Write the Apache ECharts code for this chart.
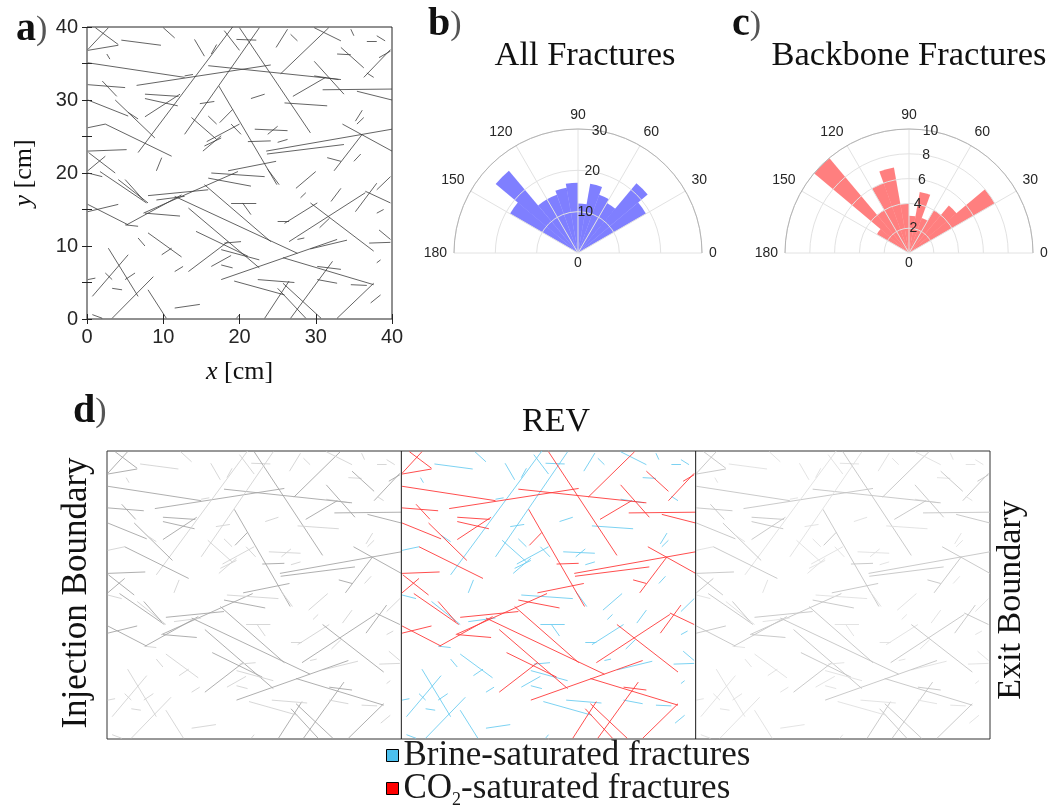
<!DOCTYPE html>
<html><head><meta charset="utf-8">
<script src="https://cdn.jsdelivr.net/npm/echarts@6/dist/echarts.min.js"></script>
<style>html,body{margin:0;padding:0;background:#fff}#c{width:1051px;height:809px}</style>
</head><body><div id="c"></div><script>
// Fracture segments in cm: [x1, y1, x2, y2, backbone(1) / dangling(0)]
const fractures = [
[0.1,36.9,2.8,39.9,1],[1.1,39.9,4.1,37.6,1],[0.1,36.8,4.1,37.5,1],[2.6,36.3,3.0,35.6,0],
[4.5,38.2,9.7,37.5,0],[10.0,39.9,11.5,38.5,0],[0.1,35.1,12.8,33.1,1],[0.1,32.1,5.0,31.7,1],
[2.0,32.6,3.9,30.5,1],[6.5,32.0,24.1,34.8,1],[7.6,30.8,12.0,30.5,1],[7.6,30.2,11.9,29.2,1],
[0.1,30.0,5.4,27.8,1],[14.1,38.3,15.4,36.0,0],[16.3,36.3,17.0,37.6,0],[18.0,39.5,20.0,36.8,0],
[19.6,38.3,22.2,38.2,0],[20.0,39.9,29.3,25.5,1],[24.8,37.2,26.3,39.7,0],[26.7,39.0,27.6,38.1,0],
[25.4,33.6,31.7,39.9,1],[29.8,39.9,33.3,38.1,0],[32.8,36.3,34.6,36.2,0],[33.3,37.2,36.3,34.4,1],
[34.6,39.7,35.0,38.8,0],[36.7,38.1,38.0,38.1,0],[38.0,38.8,39.1,38.1,0],[38.3,35.8,39.8,36.7,1],
[36.3,33.1,39.8,36.9,1],[36.7,33.7,37.6,33.1,0],[29.8,35.3,33.7,30.8,1],[29.8,33.3,33.0,32.8,0],
[27.0,30.5,31.3,33.1,1],[25.9,29.6,31.5,29.2,0],[30.9,31.4,40.0,31.5,1],[35.4,31.2,40.0,30.0,1],
[35.2,27.1,36.1,28.6,0],[35.4,26.7,36.3,27.6,0],[33.5,26.7,40.0,23.0,1],[23.5,23.0,40.0,26.0,1],
[23.6,22.6,33.7,23.9,1],[31.5,22.1,33.3,21.6,1],[32.4,20.3,36.1,25.3,1],[35.0,21.6,35.9,22.6,0],
[17.3,31.9,24.9,18.4,1],[15.9,34.7,33.3,32.8,1],[12.8,33.3,13.9,33.5,0],[14.8,29.5,16.7,29.8,0],
[21.5,30.2,23.3,30.8,0],[17.4,26.9,19.1,28.7,1],[15.9,27.8,17.0,26.7,0],[6.7,22.8,19.1,40.0,0],
[12.8,25.3,22.6,39.9,0],[13.7,27.6,17.0,24.6,0],[15.2,23.0,17.6,25.1,0],[15.4,23.7,17.6,24.8,0],
[15.7,24.3,20.0,26.7,0],[22.0,26.0,26.3,25.8,0],[23.7,25.3,25.0,26.4,0],[21.1,24.3,24.1,24.4,1],
[25.0,24.2,26.3,24.6,0],[18.9,26.7,20.2,25.3,0],[0.1,26.2,2.4,26.7,0],[0.1,23.0,5.2,23.2,1],
[0.2,22.8,3.7,20.0,1],[3.7,30.0,8.9,24.8,1],[7.6,27.7,12.2,30.8,1],[2.4,26.7,11.1,22.3,1],
[5.4,28.3,6.7,27.4,0],[0.1,20.3,2.4,22.3,1],[18.5,20.3,24.8,21.6,1],[9.1,20.3,9.8,22.1,0],
[1.7,20.2,7.8,15.9,1],[4.1,19.1,8.0,15.9,0],[0.1,15.7,5.4,12.9,1],[0.1,14.7,4.1,15.7,1],
[5.0,12.9,6.7,12.7,0],[5.2,12.9,12.4,17.0,1],[7.4,14.5,19.8,20.2,1],[7.6,14.5,12.2,14.1,1],
[8.0,16.9,15.9,17.7,1],[9.1,16.3,12.8,16.8,0],[11.5,16.8,27.6,9.0,1],[13.3,15.2,22.6,7.0,1],
[15.4,18.4,24.1,10.6,1],[15.9,19.3,21.5,18.2,1],[18.9,15.9,22.2,15.9,0],[20.4,15.9,21.5,14.3,0],
[25.0,13.4,26.5,13.4,0],[23.7,20.5,25.2,18.4,0],[27.4,17.9,30.0,20.2,0],[28.0,16.6,28.7,17.3,0],
[32.0,16.1,33.3,17.9,0],[25.9,13.1,30.2,15.9,0],[29.3,15.9,37.6,9.3,1],[26.5,10.6,36.5,17.3,1],
[27.6,10.9,28.5,11.1,0],[35.2,14.7,38.0,18.6,1],[36.5,17.5,39.8,15.9,1],[38.0,14.5,38.9,15.0,0],
[38.3,12.2,39.8,10.9,0],[37.0,10.4,39.8,10.5,0],[29.3,9.6,34.1,10.8,0],[14.3,12.0,21.1,8.6,1],
[17.6,9.5,22.6,8.1,0],[16.3,7.2,18.9,8.7,0],[17.6,7.4,19.1,7.0,0],[13.3,6.5,18.5,10.6,1],
[17.6,5.4,32.8,10.9,1],[25.7,8.4,37.6,4.7,1],[30.2,7.2,33.3,6.8,1],[26.7,0.1,32.2,7.9,1],
[25.7,4.9,30.7,0.1,1],[23.3,0.1,26.5,5.2,1],[25.0,4.2,28.7,0.1,1],[19.3,5.2,25.9,3.3,0],
[6.7,11.1,7.6,10.0,0],[8.0,11.8,12.4,8.5,0],[9.8,8.8,11.1,9.7,0],[2.8,9.7,6.7,3.1,0],
[0.7,3.1,5.4,8.8,0],[5.0,5.4,6.3,6.3,0],[3.3,4.2,4.6,4.0,0],[0.1,5.4,1.1,5.6,0],
[2.4,6.3,3.3,5.4,0],[3.3,0.1,8.7,5.8,0],[8.0,4.0,10.4,0.1,0],[11.5,1.5,14.8,2.0,0],
[11.5,6.5,12.6,7.2,0],[0.7,0.6,2.0,0.1,0],[34.6,4.7,36.7,4.6,0],[32.8,0.1,37.6,4.9,1],
[38.0,7.7,38.5,8.1,0],[0.1,20.0,2.0,19.5,0],[30.2,5.4,32.8,4.9,0],[5.0,19.1,7.4,16.3,1],
[37.2,2.2,38.5,3.3,0],[19.6,0.1,20.0,0.6,0],[38.0,17.7,39.8,19.5,0],
[16.3,20.0,23.3,19.5,0],[18.0,10.4,20.2,10.6,0],[22.4,5.4,27.2,5.0,0],[30.5,12.5,31.8,13.8,0]
];
// Rose histogram: 10-degree bins from 0 to 180
const roseBins = [0,10,20,30,40,50,60,70,80,90,100,110,120,130,140,150,160,170];
const allCounts = [0,0,0,19,22,14,15,17,12,17,16,15,15,26,19,0,0,0];
const backboneCounts = [0,0,0,8,5,4,3,5,3,4,7,6,4,10,3,0,0,0];
const tileOffsets = [0,40,80];
const tileEdges = [40,80];
const legendNames = ['Brine-saturated fractures','CO2-saturated fractures'];

const SERIF = '"Liberation Serif", "DejaVu Serif", serif';
const SANS = '"Liberation Sans", Arial, sans-serif';

function seg(f, dx){ return [[f[0]+dx, f[1]], [f[2]+dx, f[3]]]; }

const chart = echarts.init(document.getElementById('c'), null, {renderer:'canvas'});

const polars = [
  {center:[578,253], radius:124},{center:[578,253], radius:124},{center:[578,253], radius:124},
  {center:[909,253], radius:124},{center:[909,253], radius:124},{center:[909,253], radius:124}
];
function angleGrid(pi){
  return {polarIndex:pi, type:'value', min:0, max:180, interval:30, startAngle:0, endAngle:180, clockwise:false,
    axisLine:{show:true, lineStyle:{color:'#b4b4b4', width:1}}, axisTick:{show:false},
    axisLabel:{show:true, fontSize:14, color:'#262626', fontFamily:SANS, margin:7},
    splitLine:{show:true, lineStyle:{color:'#e2e2e2', width:1}}, z:5};
}
function angleBars(pi){
  return {polarIndex:pi, type:'category', data:roseBins.map(String), startAngle:0, endAngle:180, clockwise:false,
    boundaryGap:true, show:false, axisLine:{show:false}, axisLabel:{show:false}, axisTick:{show:false}, splitLine:{show:false}};
}
function angleLabels(pi){
  return {polarIndex:pi, type:'value', min:0, max:360, startAngle:80, show:false,
    axisLine:{show:false}, axisLabel:{show:false}, axisTick:{show:false}, splitLine:{show:false}};
}
function radiusGrid(pi,max,intv){
  return {polarIndex:pi, type:'value', min:0, max:max, interval:intv, axisLine:{show:false}, axisTick:{show:false},
    axisLabel:{show:false}, splitLine:{show:true, lineStyle:{color:'#e2e2e2', width:1}}, z:5};
}
function radiusHidden(pi,max){
  return {polarIndex:pi, type:'value', min:0, max:max, show:false, axisLine:{show:false}, axisTick:{show:false},
    axisLabel:{show:false}, splitLine:{show:false}};
}
function radiusLabels(pi,max,intv){
  return {polarIndex:pi, type:'value', min:0, max:max, interval:intv, axisLine:{show:false}, axisTick:{show:false},
    splitLine:{show:false},
    axisLabel:{show:true, margin:0, align:'center', verticalAlign:'middle', fontSize:14, color:'#262626', fontFamily:SANS,
      formatter:(v)=> v===0 ? '{z|0}' : String(v),
      rich:{z:{fontSize:14, color:'#262626', fontFamily:SANS, padding:[20,0,0,0]}}}, z:6};
}

const series = [];
// Panel a
series.push({type:'lines', coordinateSystem:'cartesian2d', xAxisIndex:0, yAxisIndex:0, silent:true,
  data: fractures.map(f=>({coords:seg(f,0)})), lineStyle:{color:'#3c3c3c', width:0.8, opacity:1}, z:2});
// Panel d - left tile (gray)
series.push({type:'lines', coordinateSystem:'cartesian2d', xAxisIndex:2, yAxisIndex:2, silent:true,
  data: fractures.map(f=>({coords:seg(f,tileOffsets[0]), lineStyle:{color: f[4]? '#a6a6a6':'#d2d2d2'}})),
  lineStyle:{width:0.9, opacity:1}, z:2});
// REV tile
series.push({name:legendNames[0], type:'lines', coordinateSystem:'cartesian2d', xAxisIndex:2, yAxisIndex:2, silent:true,
  data: fractures.filter(f=>!f[4]).map(f=>({coords:seg(f,tileOffsets[1])})),
  lineStyle:{color:'#6dcdf0', width:0.9, opacity:1}, itemStyle:{color:'#4cc0ee'}, z:2});
series.push({name:legendNames[1], type:'lines', coordinateSystem:'cartesian2d', xAxisIndex:2, yAxisIndex:2, silent:true,
  data: fractures.filter(f=>f[4]).map(f=>({coords:seg(f,tileOffsets[1])})),
  lineStyle:{color:'#ff3a3a', width:0.9, opacity:1}, itemStyle:{color:'#ff0000'}, z:3});
// Right tile
series.push({type:'lines', coordinateSystem:'cartesian2d', xAxisIndex:2, yAxisIndex:2, silent:true,
  data: fractures.map(f=>({coords:seg(f,tileOffsets[2]), lineStyle:{color: f[4]? '#c4c4c4':'#e0e0e0'}})),
  lineStyle:{width:0.9, opacity:1}, z:2});
// Tile edges
tileEdges.forEach(e=>{
  series.push({type:'line', xAxisIndex:2, yAxisIndex:2, data:[[e,0],[e,40]], symbol:'none', silent:true,
    lineStyle:{color:'#1a1a1a', width:1}, z:4});
});
// Rose histograms
series.push({type:'bar', coordinateSystem:'polar', polarIndex:1, data:allCounts, barCategoryGap:'0%', silent:true,
  itemStyle:{color:'rgba(0,0,255,0.5)'}, z:2});
series.push({type:'bar', coordinateSystem:'polar', polarIndex:4, data:backboneCounts, barCategoryGap:'0%', silent:true,
  itemStyle:{color:'rgba(255,0,0,0.5)'}, z:2});

const legendText = {fontSize:35, fontFamily:SERIF, color:'#1a1a1a',
  rich:{n:{fontSize:35, fontFamily:SERIF, color:'#1a1a1a'}, s:{fontSize:18, fontFamily:SERIF, color:'#1a1a1a', padding:[24,0,0,0]}}};
const legendFmt = (n)=> n===legendNames[1] ? '{n|CO}{s|2}{n|-saturated fractures}' : '{n|'+n+'}';

const option = {
  animation:false,
  backgroundColor:'#fff',
  grid:[
    {left:87, top:27, width:305, height:292, show:true, borderColor:'#222', borderWidth:1, backgroundColor:'#fff'},
    {left:107, top:451, width:883, height:288, show:true, borderColor:'#333', borderWidth:1}
  ],
  xAxis:[
    {gridIndex:0, type:'value', min:0, max:40, interval:10, position:'bottom',
      axisLine:{show:false}, axisTick:{show:true, inside:true, length:5, lineStyle:{color:'#222'}},
      axisLabel:{fontSize:20, color:'#262626', fontFamily:SANS, margin:8}, splitLine:{show:false},
      name:'{i|x} [cm]', nameLocation:'middle', nameGap:40,
      nameTextStyle:{fontSize:26, fontFamily:SERIF, color:'#111', rich:{i:{fontSize:26, fontFamily:SERIF, fontStyle:'italic', color:'#111'}}}},
    {gridIndex:0, type:'value', min:0, max:40, interval:10, position:'top',
      axisLine:{show:false}, axisTick:{show:true, inside:true, length:5, lineStyle:{color:'#222'}},
      axisLabel:{show:false}, splitLine:{show:false}},
    {gridIndex:1, type:'value', min:0, max:120, show:false, splitLine:{show:false}}
  ],
  yAxis:[
    {gridIndex:0, type:'value', min:0, max:40, interval:5, position:'left',
      axisLine:{show:false}, axisTick:{show:true, inside:true, length:5, lineStyle:{color:'#222'}},
      axisLabel:{fontSize:20, color:'#262626', fontFamily:SANS, margin:9, formatter:(v)=> v%10===0 ? String(v) : ''},
      splitLine:{show:false},
      name:'{i|y} [cm]', nameLocation:'middle', nameGap:50,
      nameTextStyle:{fontSize:26, fontFamily:SERIF, color:'#111', rich:{i:{fontSize:26, fontFamily:SERIF, fontStyle:'italic', color:'#111'}}}},
    {gridIndex:0, type:'value', min:0, max:40, interval:5, position:'right',
      axisLine:{show:false}, axisTick:{show:true, inside:true, length:5, lineStyle:{color:'#222'}},
      axisLabel:{show:false}, splitLine:{show:false}},
    {gridIndex:1, type:'value', min:0, max:40, show:false, splitLine:{show:false}}
  ],
  polar: polars,
  angleAxis:[angleGrid(0), angleBars(1), angleLabels(2), angleGrid(3), angleBars(4), angleLabels(5)],
  radiusAxis:[radiusGrid(0,30,10), radiusHidden(1,30), radiusLabels(2,30,10), radiusGrid(3,10,2), radiusHidden(4,10), radiusLabels(5,10,2)],
  legend:[
    {left:381, top:733, orient:'vertical', itemWidth:12, itemHeight:12, selectedMode:false,
      data:[{name:legendNames[0], icon:'rect', itemStyle:{color:'#4cc0ee', borderColor:'#000', borderWidth:1}}],
      formatter:legendFmt, textStyle:legendText},
    {left:381, top:766, orient:'vertical', itemWidth:12, itemHeight:12, selectedMode:false,
      data:[{name:legendNames[1], icon:'rect', itemStyle:{color:'#ff0000', borderColor:'#000', borderWidth:1}}],
      formatter:legendFmt, textStyle:legendText}
  ],
  graphic:[
    {type:'text', x:16, y:30, style:{text:'{b|a}{p|)}', textVerticalAlign:'middle', rich:{b:{fontSize:40, fontWeight:'bold', fontFamily:SERIF, fill:'#111'}, p:{fontSize:34, fontFamily:SERIF, fill:'#555'}}}},
    {type:'text', x:428, y:25, style:{text:'{b|b}{p|)}', textVerticalAlign:'middle', rich:{b:{fontSize:40, fontWeight:'bold', fontFamily:SERIF, fill:'#111'}, p:{fontSize:34, fontFamily:SERIF, fill:'#555'}}}},
    {type:'text', x:732, y:25, style:{text:'{b|c}{p|)}', textVerticalAlign:'middle', rich:{b:{fontSize:40, fontWeight:'bold', fontFamily:SERIF, fill:'#111'}, p:{fontSize:34, fontFamily:SERIF, fill:'#555'}}}},
    {type:'text', x:73, y:412, style:{text:'{b|d}{p|)}', textVerticalAlign:'middle', rich:{b:{fontSize:40, fontWeight:'bold', fontFamily:SERIF, fill:'#111'}, p:{fontSize:34, fontFamily:SERIF, fill:'#555'}}}},
    {type:'text', x:585, y:56, style:{text:'All Fractures', textAlign:'center', textVerticalAlign:'middle', fontSize:34.5, fontFamily:SERIF, fill:'#111'}},
    {type:'text', x:909, y:56, style:{text:'Backbone Fractures', textAlign:'center', textVerticalAlign:'middle', fontSize:34.5, fontFamily:SERIF, fill:'#111'}},
    {type:'text', x:556, y:422, style:{text:'REV', textAlign:'center', textVerticalAlign:'middle', fontSize:34, fontFamily:SERIF, fill:'#111'}},
    {type:'text', x:77, y:593, rotation:Math.PI/2, style:{text:'Injection Boundary', textAlign:'center', textVerticalAlign:'middle', fontSize:35, fontFamily:SERIF, fill:'#111'}},
    {type:'text', x:1011, y:600, rotation:Math.PI/2, style:{text:'Exit Boundary', textAlign:'center', textVerticalAlign:'middle', fontSize:34, fontFamily:SERIF, fill:'#111'}}
  ],
  series
};
chart.setOption(option);
</script></body></html>
